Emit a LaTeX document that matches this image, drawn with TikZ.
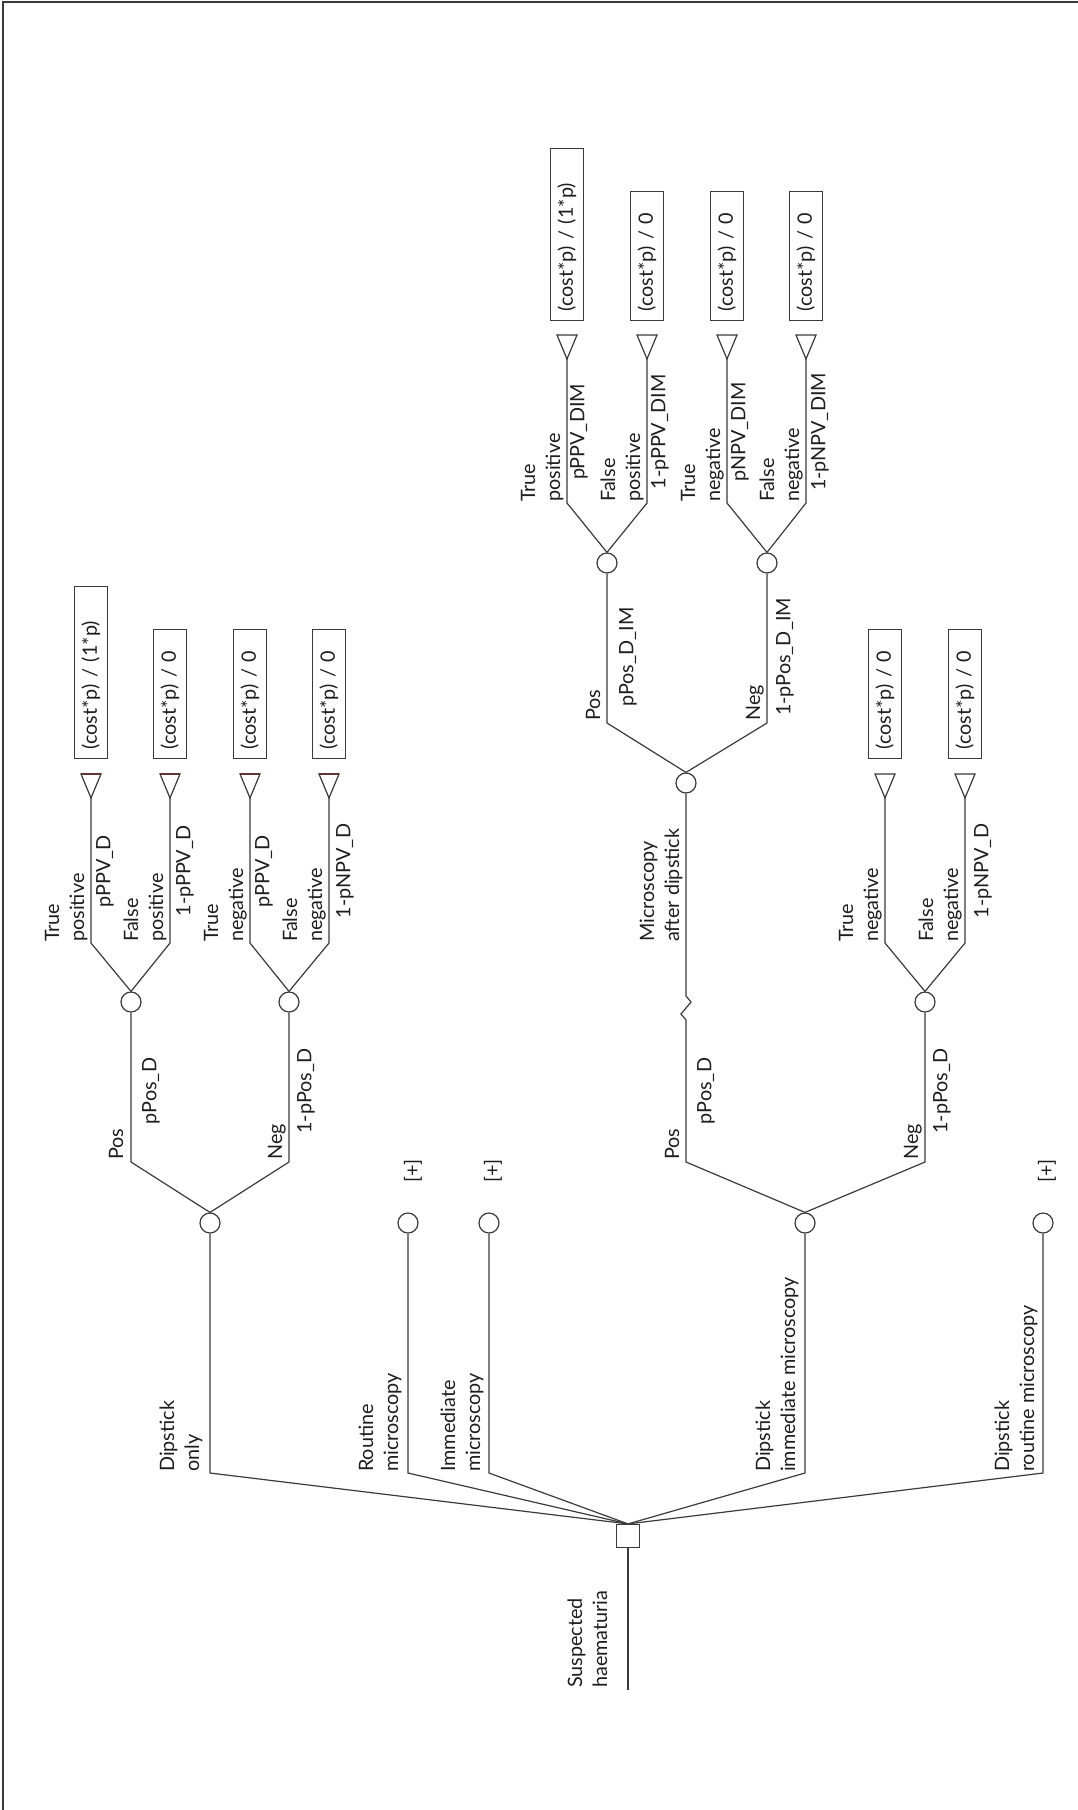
\documentclass[tikz,border=0pt]{standalone}
\usepackage{fontspec}
\setmainfont{Lato}
\definecolor{ln}{HTML}{3A3A3A}
\definecolor{tx}{HTML}{1E1E1E}
\definecolor{tritop}{HTML}{5E3434}
\newcommand{\lf}{\fontsize{19.8}{25}\selectfont}
\newcommand{\tl}[1]{\begin{tabular}[b]{@{}l@{}}#1\end{tabular}}
\begin{document}
\begin{tikzpicture}[x=1pt,y=-1pt,
  edge/.style={draw=ln, line width=1.2pt, line join=miter},
  chance/.style={circle, draw=ln, line width=1.2pt, fill=white, minimum size=20pt, inner sep=0pt},
  decis/.style={rectangle, draw=ln, line width=1.2pt, fill=white, minimum size=23pt, inner sep=0pt},
  namelbl/.style={rotate=90, anchor=base west, inner sep=0pt, text=tx, font=\lf},
  problbl/.style={rotate=90, anchor=center, inner sep=0pt, text=tx, font=\lf},
  pluslbl/.style={rotate=90, anchor=center, inner sep=0pt, text=tx, font=\lf},
  payoff/.style={rotate=90, anchor=west, draw=ln, line width=1.2pt, minimum height=33pt,
                 inner ysep=0pt, inner xsep=9pt, align=left, text=tx, font=\lf, text width=#1},
  tri/.style={draw=ln, line width=1.2pt, fill=white},
  tritopline/.style={draw=tritop, line width=1.2pt}
]
\useasboundingbox (0,0) rectangle (1078,1810);
% frame (top and left edges)
\draw[ln, line width=2pt] (3,1810) -- (3,2) -- (1078,2);

% ---------- root ----------
\coordinate (rs) at (628,1690);
\node[decis] (sq) at (628,1536) {};
\draw[edge] (rs) -- (sq.south);
\node[namelbl] (lroot) at (607,1688) {\tl{Suspected\\haematuria}};

% ---------- decision branches ----------
\coordinate (kA) at (210,1473); \node[chance] (cA) at (210,1223) {};
\coordinate (kB) at (408,1473); \node[chance] (cB) at (408,1223) {};
\coordinate (kC) at (489,1473); \node[chance] (cC) at (489,1223) {};
\coordinate (kD) at (805,1473); \node[chance] (cD) at (805,1223) {};
\coordinate (kE) at (1043,1473); \node[chance] (cE) at (1043,1223) {};
\foreach \k/\c in {kA/cA,kB/cB,kC/cC,kD/cD,kE/cE}
  \draw[edge] (sq.north) -- (\k) -- (\c.south);

\node[namelbl] (nA) at (199,1472) {\tl{Dipstick\\only}};
\node[namelbl] (nB) at (398,1472) {\tl{Routine\\microscopy}};
\node[namelbl] (nC) at (480,1472) {\tl{Immediate\\microscopy}};
\node[namelbl] (nD) at (795,1472) {\tl{Dipstick\\immediate microscopy}};
\node[namelbl] (nE) at (1034,1472) {\tl{Dipstick\\routine microscopy}};
\node[pluslbl] (pB) at (413,1171) {[+]};
\node[pluslbl] (pC) at (493,1171) {[+]};
\node[pluslbl] (pE) at (1047,1171) {[+]};

% ---------- left tree (Dipstick only) ----------
\coordinate (kAp) at (131,1162); \coordinate (kAn) at (289,1162);
\node[chance] (cAp) at (131,1002) {};
\node[chance] (cAn) at (289,1002) {};
\draw[edge] (cA.north) -- (kAp) -- (cAp.south);
\draw[edge] (cA.north) -- (kAn) -- (cAn.south);
\node[namelbl] (lAp) at (123,1160) {\tl{Pos}};
\node[problbl] (qAp) at (151,1091) {pPos\_D};
\node[namelbl] (lAn) at (282,1160) {\tl{Neg}};
\node[problbl] (qAn) at (306,1091) {1-pPos\_D};

% leaves
\coordinate (l1) at (91,943);  \coordinate (a1) at (91,798);
\coordinate (l2) at (170,943); \coordinate (a2) at (170,798);
\coordinate (l3) at (250,943); \coordinate (a3) at (250,798);
\coordinate (l4) at (329,943); \coordinate (a4) at (329,798);
\draw[edge] (cAp.north) -- (l1) -- (a1);
\draw[edge] (cAp.north) -- (l2) -- (a2);
\draw[edge] (cAn.north) -- (l3) -- (a3);
\draw[edge] (cAn.north) -- (l4) -- (a4);
\foreach \a in {a1,a2,a3,a4}{
  \draw[tri] (\a) -- ++(-10,-24) -- ++(20,0) -- cycle;
  \draw[tritopline] (\a) ++(-10,-24) -- ++(20,0);
}
\node[payoff=154pt] (b1) at (91,759) {(cost*p) / (1*p)};
\node[payoff=111pt] (b2) at (170,759) {(cost*p) / 0};
\node[payoff=111pt] (b3) at (250,759) {(cost*p) / 0};
\node[payoff=111pt] (b4) at (329,759) {(cost*p) / 0};
\node[namelbl] (t1) at (84,942) {\tl{True\\positive}};
\node[problbl] (r1) at (105,871) {pPPV\_D};
\node[namelbl] (t2) at (163,942) {\tl{False\\positive}};
\node[problbl] (r2) at (185,871) {1-pPPV\_D};
\node[namelbl] (t3) at (243,942) {\tl{True\\negative}};
\node[problbl] (r3) at (264,871) {pPPV\_D};
\node[namelbl] (t4) at (322,942) {\tl{False\\negative}};
\node[problbl] (r4) at (345,871) {1-pNPV\_D};

% ---------- right tree (Dipstick immediate microscopy) ----------
\coordinate (kDp) at (686,1162); \coordinate (kDn) at (925,1162);
\node[chance] (cM) at (686,783) {};
\node[chance] (cDn) at (925,1002) {};
\coordinate (j1) at (686,1020); \coordinate (j2) at (681,1014);
\coordinate (j3) at (691,1002); \coordinate (j4) at (686,996);
\draw[edge] (cD.north) -- (kDp) -- (j1) -- (j2) -- (j3) -- (j4) -- (cM.south);
\draw[edge] (cD.north) -- (kDn) -- (cDn.south);
\node[namelbl] (lDp) at (679,1160) {\tl{Pos}};
\node[problbl] (qDp) at (706,1091) {pPos\_D};
\node[namelbl] (lDn) at (918,1160) {\tl{Neg}};
\node[problbl] (qDn) at (942,1091) {1-pPos\_D};
\node[namelbl] (lM) at (679,942) {\tl{Microscopy\\after dipstick}};

% Neg subtree leaves
\coordinate (l5) at (885,943); \coordinate (a5) at (885,798);
\coordinate (l6) at (965,943); \coordinate (a6) at (965,798);
\draw[edge] (cDn.north) -- (l5) -- (a5);
\draw[edge] (cDn.north) -- (l6) -- (a6);
\foreach \a in {a5,a6}
  \draw[tri] (\a) -- ++(-10,-24) -- ++(20,0) -- cycle;
\node[payoff=111pt] (b5) at (885,759) {(cost*p) / 0};
\node[payoff=111pt] (b6) at (965,759) {(cost*p) / 0};
\node[namelbl] (t5) at (878,942) {\tl{True\\negative}};
\node[namelbl] (t6) at (958,942) {\tl{False\\negative}};
\node[problbl] (r6) at (983,871) {1-pNPV\_D};

% Microscopy after dipstick subtree
\coordinate (kMp) at (607,723); \coordinate (kMn) at (767,723);
\node[chance] (cMp) at (607,563) {};
\node[chance] (cMn) at (767,563) {};
\draw[edge] (cM.north) -- (kMp) -- (cMp.south);
\draw[edge] (cM.north) -- (kMn) -- (cMn.south);
\node[namelbl] (lMp) at (600,721) {\tl{Pos}};
\node[problbl] (qMp) at (628,657) {pPos\_D\_IM};
\node[namelbl] (lMn) at (760,721) {\tl{Neg}};
\node[problbl] (qMn) at (785,657) {1-pPos\_D\_IM};

\coordinate (l7) at (567,503);  \coordinate (a7) at (567,359);
\coordinate (l8) at (647,503);  \coordinate (a8) at (647,359);
\coordinate (l9) at (727,503);  \coordinate (a9) at (727,359);
\coordinate (l10) at (806,503); \coordinate (a10) at (806,359);
\draw[edge] (cMp.north) -- (l7) -- (a7);
\draw[edge] (cMp.north) -- (l8) -- (a8);
\draw[edge] (cMn.north) -- (l9) -- (a9);
\draw[edge] (cMn.north) -- (l10) -- (a10);
\foreach \a in {a7,a8,a9,a10}
  \draw[tri] (\a) -- ++(-10,-24) -- ++(20,0) -- cycle;
\node[payoff=154pt] (b7) at (567,321) {(cost*p) / (1*p)};
\node[payoff=111pt] (b8) at (647,321) {(cost*p) / 0};
\node[payoff=111pt] (b9) at (727,321) {(cost*p) / 0};
\node[payoff=111pt] (b10) at (806,321) {(cost*p) / 0};
\node[namelbl] (t7) at (560,502) {\tl{True\\positive}};
\node[problbl] (r7) at (579,432) {pPPV\_DIM};
\node[namelbl] (t8) at (640,502) {\tl{False\\positive}};
\node[problbl] (r8) at (660,432) {1-pPPV\_DIM};
\node[namelbl] (t9) at (720,502) {\tl{True\\negative}};
\node[problbl] (r9) at (740,432) {pNPV\_DIM};
\node[namelbl] (t10) at (799,502) {\tl{False\\negative}};
\node[problbl] (r10) at (820,432) {1-pNPV\_DIM};
\end{tikzpicture}
\end{document}
